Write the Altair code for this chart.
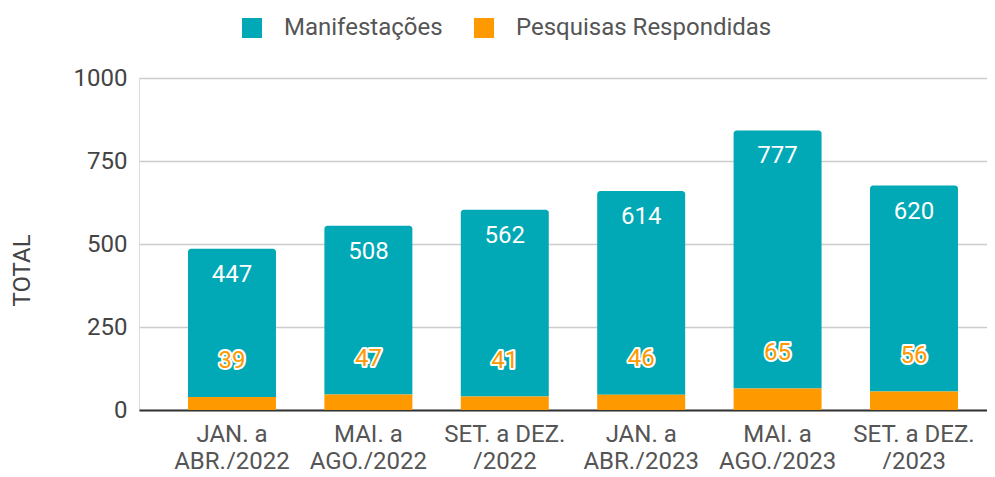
import altair as alt
import pandas as pd

periodos = ["JAN. a\nABR./2022", "MAI. a\nAGO./2022", "SET. a DEZ.\n/2022",
            "JAN. a\nABR./2023", "MAI. a\nAGO./2023", "SET. a DEZ.\n/2023"]
manifestacoes = [447, 508, 562, 614, 777, 620]
pesquisas = [39, 47, 41, 46, 65, 56]

series = ["Manifestações", "Pesquisas Respondidas"]
cores = ["#00A9B5", "#FF9900"]

df = pd.DataFrame({"periodo": periodos, "m": manifestacoes, "p": pesquisas})

FONT = "Roboto"
FS = 24

x = alt.X("periodo:N", sort=periodos, title=None,
          scale=alt.Scale(paddingInner=0.355, paddingOuter=0.286, align=0.628),
          axis=alt.Axis(labelExpr="split(datum.label, '\\n')", labelAngle=0,
                        labelFontSize=FS, labelColor="#555555", labelFont=FONT,
                        labelLineHeight=27, labelPadding=12, ticks=False,
                        domain=True, domainColor="#333333", domainWidth=2))
color_scale = alt.Scale(domain=series, range=cores)

base = alt.Chart(df).transform_calculate(
    total="datum.m + datum.p",
    plabel="datum.p + 117",
)

y_axis = alt.Axis(values=[0, 250, 500, 750, 1000], format="d", labelFontSize=FS,
                  labelColor="#444444", labelFont=FONT, labelPadding=12, ticks=False,
                  domain=False, gridColor="#cccccc", gridWidth=1.5,
                  title="TOTAL", titleFont=FONT, titleFontSize=FS, titleFontWeight="normal",
                  titleColor="#444444", titleAngle=270, titleX=-117, titleY=192,
                  titleAlign="center", titleBaseline="middle")
y_scale = alt.Scale(domain=[0, 1000])

legend = alt.Legend(title=None, orient="none", legendX=101, legendY=-62, direction="horizontal",
                    symbolType="square", symbolSize=400, symbolStrokeWidth=0,
                    labelFontSize=FS, labelFont=FONT, labelColor="#555555", labelLimit=0,
                    labelOffset=20, columnPadding=29)

teal = base.transform_calculate(serie="'Manifestações'").mark_bar(
    cornerRadiusTopLeft=3, cornerRadiusTopRight=3).encode(
    x=x,
    y=alt.Y("total:Q", scale=y_scale, axis=y_axis),
    y2="p:Q",
    color=alt.Color("serie:N", scale=color_scale, legend=legend),
)
orange = base.transform_calculate(serie="'Pesquisas Respondidas'").mark_bar().encode(
    x=x,
    y=alt.Y("p:Q", scale=y_scale),
    color=alt.Color("serie:N", scale=color_scale, legend=legend),
)
mlabel = base.mark_text(font=FONT, fontSize=FS, color="white", baseline="top", dy=14).encode(
    x=x, y=alt.Y("total:Q", scale=y_scale), text="m:Q")
pstroke = base.mark_text(font=FONT, fontSize=FS, color="white", stroke="white", strokeWidth=4,
                         strokeJoin="round", baseline="middle", dy=3).encode(
    x=x, y=alt.Y("plabel:Q", scale=y_scale), text="p:Q")
pfill = base.mark_text(font=FONT, fontSize=FS, color="#FF9900", baseline="middle", dy=3).encode(
    x=x, y=alt.Y("plabel:Q", scale=y_scale), text="p:Q")

chart = alt.layer(teal, orange, mlabel, pstroke, pfill).properties(
    width=848, height=332,
    autosize=alt.AutoSizeParams(type="none"),
    padding={"left": 131, "top": 70, "right": 0, "bottom": 59},
).configure_view(stroke=None).configure(font=FONT)

chart.save("out.html", embed_options={"renderer": "svg", "actions": False})
